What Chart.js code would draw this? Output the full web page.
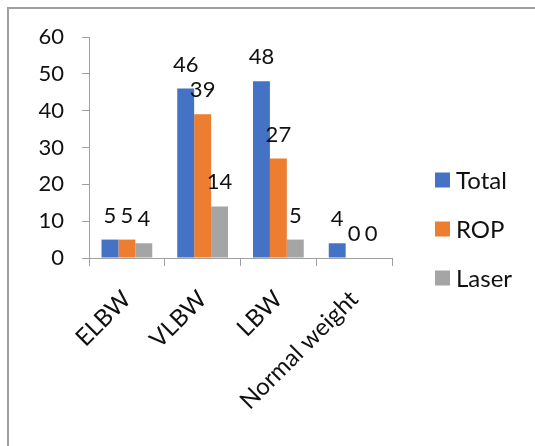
<!DOCTYPE html>
<html>
<head>
<meta charset="utf-8">
<script src="https://cdn.jsdelivr.net/npm/chart.js@4/dist/chart.umd.min.js"></script>
<style>
  html, body { margin: 0; padding: 0; background: #fff; }
  #wrap { position: relative; width: 535px; height: 446px; overflow: hidden; }
  #frame { position: absolute; left: 7px; top: 7px; width: 600px; height: 600px;
           border-left: 2px solid #a0a0a0; border-top: 2px solid #a0a0a0; }
  canvas { position: absolute; left: 0; top: 0; }
</style>
</head>
<body>
<div id="wrap">
  <div id="frame"></div>
  <canvas id="chart" width="535" height="446"></canvas>
</div>
<script>
// categories and series
const categories = ['ELBW', 'VLBW', 'LBW', 'Normal weight'];
const totalValues = [5, 46, 48, 4];
const ropValues = [5, 39, 27, 0];
const laserValues = [4, 14, 5, 0];
const yTicks = [0, 10, 20, 30, 40, 50, 60];

const FONT = 'Lato, "Open Sans", sans-serif';
const axisColor = '#a0a0a0';

// value labels above each bar
const barLabels = {
    id: 'barLabels',
    afterDatasetsDraw(chart) {
        const ctx = chart.ctx;
        ctx.save();
        ctx.font = '22px ' + FONT;
        ctx.fillStyle = '#111';
        ctx.textAlign = 'center';
        ctx.textBaseline = 'alphabetic';
        chart.data.datasets.forEach((ds, i) => {
            chart.getDatasetMeta(i).data.forEach((bar, j) => {
                ctx.fillText(String(ds.data[j]), bar.x, bar.y - 17);
            });
        });
        ctx.restore();
    }
};

// legend on the right, like the Excel one
const sideLegend = {
    id: 'sideLegend',
    afterDraw(chart) {
        const ctx = chart.ctx;
        ctx.save();
        ctx.font = '24px ' + FONT;
        ctx.textBaseline = 'middle';
        ctx.textAlign = 'left';
        chart.data.datasets.forEach((ds, i) => {
            const cy = 180 + i * 49;
            ctx.fillStyle = ds.backgroundColor;
            ctx.fillRect(435, cy - 7.5, 15, 15);
            ctx.fillStyle = '#111';
            ctx.fillText(ds.label, 456, cy + 1);
        });
        ctx.restore();
    }
};

new Chart(document.getElementById('chart'), {
    type: 'bar',
    data: {
        labels: categories,
        datasets: [
            { label: 'Total', data: totalValues, backgroundColor: '#4472C4' },
            { label: 'ROP', data: ropValues, backgroundColor: '#ED7D31' },
            { label: 'Laser', data: laserValues, backgroundColor: '#A5A5A5' }
        ]
    },
    options: {
        responsive: false,
        animation: false,
        devicePixelRatio: 1,
        layout: { padding: { top: 37, right: 143, bottom: 0, left: 0 } },
        datasets: { bar: { categoryPercentage: 0.67, barPercentage: 1 } },
        plugins: {
            legend: { display: false },
            tooltip: { enabled: false }
        },
        scales: {
            x: {
                grid: { display: true, drawOnChartArea: false, offset: true, tickLength: 8, color: axisColor },
                border: { display: true, color: axisColor, width: 1 },
                ticks: {
                    minRotation: 45, maxRotation: 45, padding: 19,
                    color: '#111', font: { family: FONT, size: 24 }
                },
                afterFit(scale) { scale.height = 188; }
            },
            y: {
                min: 0, max: 60,
                afterBuildTicks(scale) { scale.ticks = yTicks.map(v => ({ value: v })); },
                grid: { display: true, drawOnChartArea: false, tickLength: 7, color: axisColor },
                border: { display: true, color: axisColor, width: 1 },
                ticks: { padding: 18, color: '#111', font: { family: FONT, size: 22 } },
                afterFit(scale) { scale.width = 89; }
            }
        }
    },
    plugins: [barLabels, sideLegend]
});
</script>
</body>
</html>
